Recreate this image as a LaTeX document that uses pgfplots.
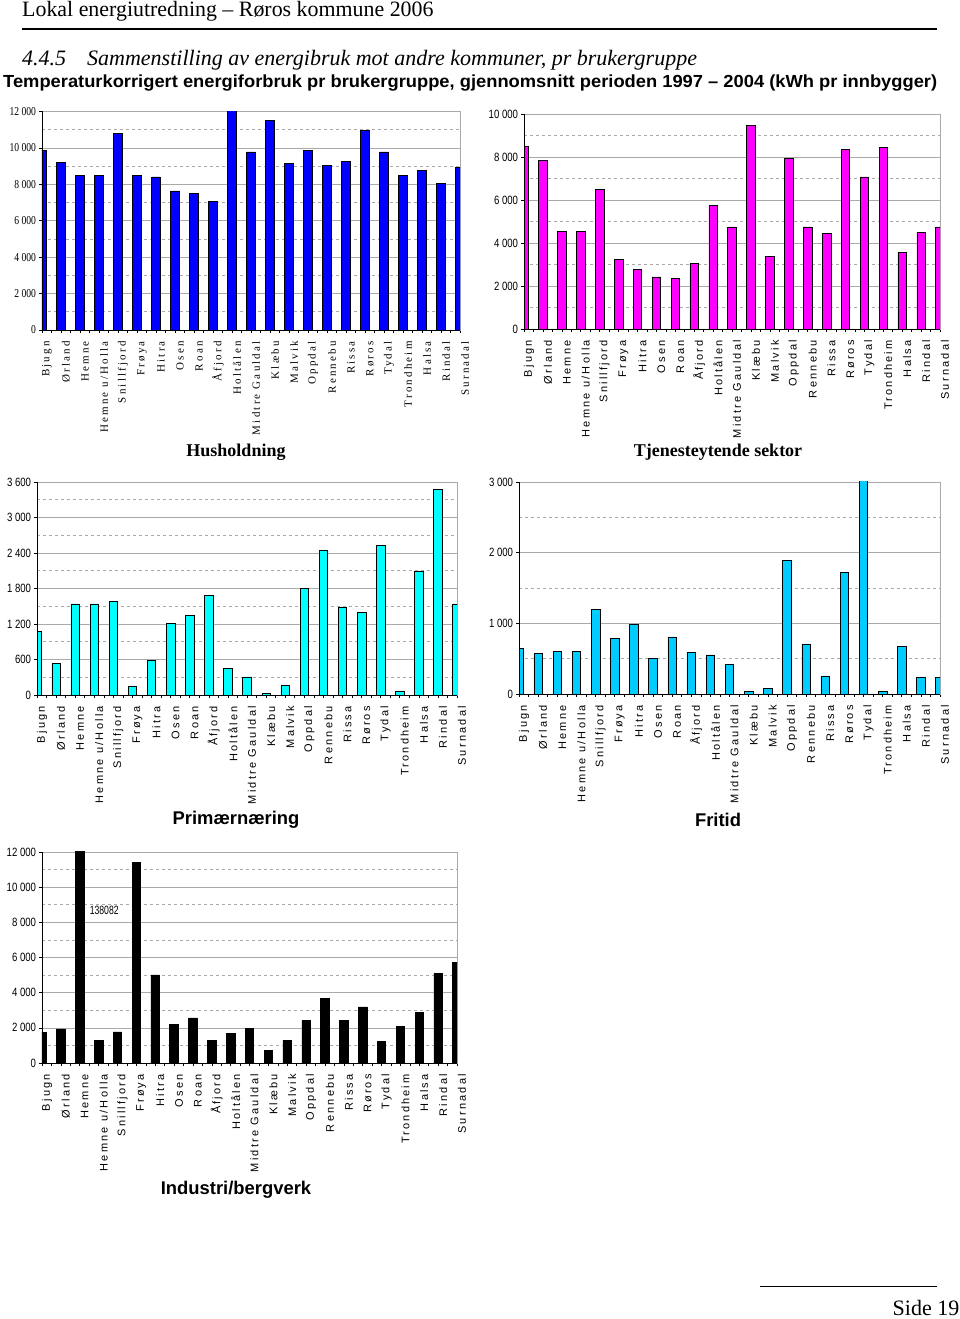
\documentclass[border=0pt]{standalone}
\usepackage{pgfplots}
\pgfplotsset{compat=1.18}
\usepackage{fontspec}
\setmainfont{Liberation Serif}
\setsansfont{Liberation Sans}
\newfontfamily\spserif[LetterSpace=20]{Liberation Serif}
\newfontfamily\spsans[LetterSpace=20]{Liberation Sans}
\definecolor{fritid}{RGB}{0,204,255}
\definecolor{mag}{RGB}{255,0,255}
\definecolor{cya}{RGB}{0,255,255}
\definecolor{blu}{RGB}{0,0,255}
\definecolor{gridc}{RGB}{170,170,170}
\pgfplotsset{
 base/.style={
  scale only axis, anchor=south west, ybar, bar width=8.5pt,
  xmin=0, xmax=22, xtick={0,...,22},
  xticklabels={Bjugn,Ørland,Hemne,Hemne u/Holla,Snillfjord,Frøya,Hitra,Osen,Roan,Åfjord,Holtålen,Midtre Gauldal,Klæbu,Malvik,Oppdal,Rennebu,Rissa,Røros,Tydal,Trondheim,Halsa,Rindal,Surnadal},
  minor xtick={0.5,1.5,...,21.5},
  xtick pos=left, ytick pos=left,
  scaled y ticks=false,
  x tick label style={rotate=90, anchor=east, inner ysep=0pt, inner xsep=8pt, yshift=-5pt},
  tick align=outside, major tick length=3pt, minor tick length=3pt,
  tick style={black, line width=0.5pt},
  ymin=0, ymajorgrids,
  major grid style={gridc, line width=0.6pt},
  extra y tick style={major tick length=0pt, grid style={gridc, dashed, line width=0.6pt}},
  extra y tick labels={},
  axis line style={gridc, line width=0.8pt},
  y tick label style={inner sep=1pt, xshift=-2pt},
  after end axis/.code={\draw[black, line width=0.8pt] (rel axis cs:0,1) -- (rel axis cs:0,0) -- (rel axis cs:1,0);},
 },
 serifaxis/.style={
  x tick label style={font=\fontsize{11}{11}\spserif},
  y tick label style={font=\fontsize{12}{12}\selectfont\rmfamily, xscale=0.8},
 },
 sansaxis/.style={
  x tick label style={font=\fontsize{11}{11}\spsans},
  y tick label style={font=\fontsize{12}{12}\selectfont\sffamily, xscale=0.8},
 },
 barsty/.style={draw=black, line width=0.6pt, fill=#1},
}
\begin{document}
\begin{tikzpicture}
\useasboundingbox (0pt,0pt) rectangle (960pt,1319pt);
\begin{scope}[x=1pt,y=1pt]
% header
\node[anchor=base west, inner sep=0pt, font=\fontsize{21.9}{22}\selectfont\rmfamily] at (22,1302) {Lokal energiutredning – Røros kommune 2006};
\draw[black, line width=1.3pt] (22,1290) -- (937,1290);
\node[anchor=base west, inner sep=0pt, font=\fontsize{22}{22}\selectfont\itshape] at (22,1253) {4.4.5};
\node[anchor=base west, inner sep=0pt, font=\fontsize{22}{22}\selectfont\itshape] at (87,1253) {Sammenstilling av energibruk mot andre kommuner, pr brukergruppe};
\node[anchor=base west, inner sep=0pt] at (3,1231) {\resizebox{934pt}{\height}{\fontsize{17.5}{18}\selectfont\sffamily\bfseries Temperaturkorrigert energiforbruk pr brukergruppe, gjennomsnitt perioden 1997 – 2004 (kWh pr innbygger)}};
% footer
\draw[black, line width=1pt] (760,32) -- (937,32);
\node[anchor=base east, inner sep=0pt, font=\fontsize{22}{22}\selectfont\rmfamily] at (959.5,3) {Side 19};
% titles
\node[font=\fontsize{18}{18}\selectfont\rmfamily\bfseries] at (236,867) {Husholdning};
\node[font=\fontsize{18}{18}\selectfont\rmfamily\bfseries] at (718,867) {Tjenesteytende sektor};
\node[font=\fontsize{18.4}{18.4}\selectfont\sffamily\bfseries] at (236,499) {Primærnæring};
\node[font=\fontsize{18.4}{18.4}\selectfont\sffamily\bfseries] at (718,499) {Fritid};
\node[font=\fontsize{18.4}{18.4}\selectfont\sffamily\bfseries] at (236,129) {Industri/bergverk};
\end{scope}

% Chart 1: Husholdning
\begin{axis}[base, serifaxis, at={(42pt,989pt)}, width=418pt, height=218.5pt,
  ymax=12000, ytick={0,2000,...,12000}, yticklabels={0,2 000,4 000,6 000,8 000,10 000,12 000},
  extra y ticks={1000,3000,...,11000}]
\addplot[barsty=blu] coordinates {(0,9860)(1,9220)(2,8480)(3,8480)(4,10790)(5,8480)(6,8410)(7,7640)(8,7480)(9,7050)(10,12130)(11,9780)(12,11510)(13,9140)(14,9860)(15,9050)(16,9270)(17,10940)(18,9780)(19,8480)(20,8780)(21,8060)(22,8920)};
\end{axis}

% Chart 2: Tjenesteytende sektor
\begin{axis}[base, sansaxis, at={(524pt,990pt)}, width=416pt, height=215pt,
  ymax=10000, ytick={0,2000,...,10000}, yticklabels={0,2 000,4 000,6 000,8 000,10 000},
  extra y ticks={1000,3000,...,9000}]
\addplot[barsty=mag] coordinates {(0,8510)(1,7830)(2,4550)(3,4550)(4,6510)(5,3230)(6,2780)(7,2420)(8,2350)(9,3040)(10,5750)(11,4750)(12,9470)(13,3370)(14,7950)(15,4750)(16,4430)(17,8340)(18,7070)(19,8450)(20,3560)(21,4490)(22,4750)};
\end{axis}

% Chart 3: Primærnæring
\begin{axis}[base, sansaxis, at={(37pt,624pt)}, width=420pt, height=213pt,
  ymax=3600, ytick={0,600,...,3600}, yticklabels={0,600,1 200,1 800,2 400,3 000,3 600},
  extra y ticks={300,900,...,3300}]
\addplot[barsty=cya] coordinates {(0,1070)(1,540)(2,1540)(3,1540)(4,1580)(5,140)(6,590)(7,1210)(8,1350)(9,1680)(10,445)(11,305)(12,28)(13,163)(14,1800)(15,2445)(16,1490)(17,1400)(18,2535)(19,56)(20,2095)(21,3470)(22,1540)};
\end{axis}

% Chart 4: Fritid
\begin{axis}[base, sansaxis, at={(519pt,625pt)}, width=421pt, height=212pt,
  ymax=3000, ytick={0,1000,2000,3000}, yticklabels={0,1 000,2 000,3 000},
  extra y ticks={500,1500,2500}]
\addplot[barsty=fritid] coordinates {(0,646)(1,571)(2,608)(3,608)(4,1193)(5,783)(6,981)(7,509)(8,807)(9,590)(10,552)(11,415)(12,42)(13,80)(14,1887)(15,708)(16,255)(17,1726)(18,3040)(19,42)(20,670)(21,236)(22,236)};
\end{axis}

% Chart 5: Industri/bergverk
\begin{axis}[base, sansaxis, at={(42pt,256pt)}, width=415pt, height=211pt,
  ymax=12000, ytick={0,2000,...,12000}, yticklabels={0,2 000,4 000,6 000,8 000,10 000,12 000},
  extra y ticks={1000,3000,...,11000}]
\addplot[barsty=black] coordinates {(0,1744)(1,1934)(2,138082)(3,1289)(4,1763)(5,11410)(6,5005)(7,2180)(8,2560)(9,1289)(10,1687)(11,1990)(12,739)(13,1289)(14,2408)(15,3660)(16,2408)(17,3185)(18,1213)(19,2085)(20,2882)(21,5100)(22,5725)};
\node[font=\fontsize{12}{12}\selectfont\sffamily, xscale=0.72] at (axis cs:3.3,8700) {138082};
\end{axis}
\end{tikzpicture}
\end{document}
